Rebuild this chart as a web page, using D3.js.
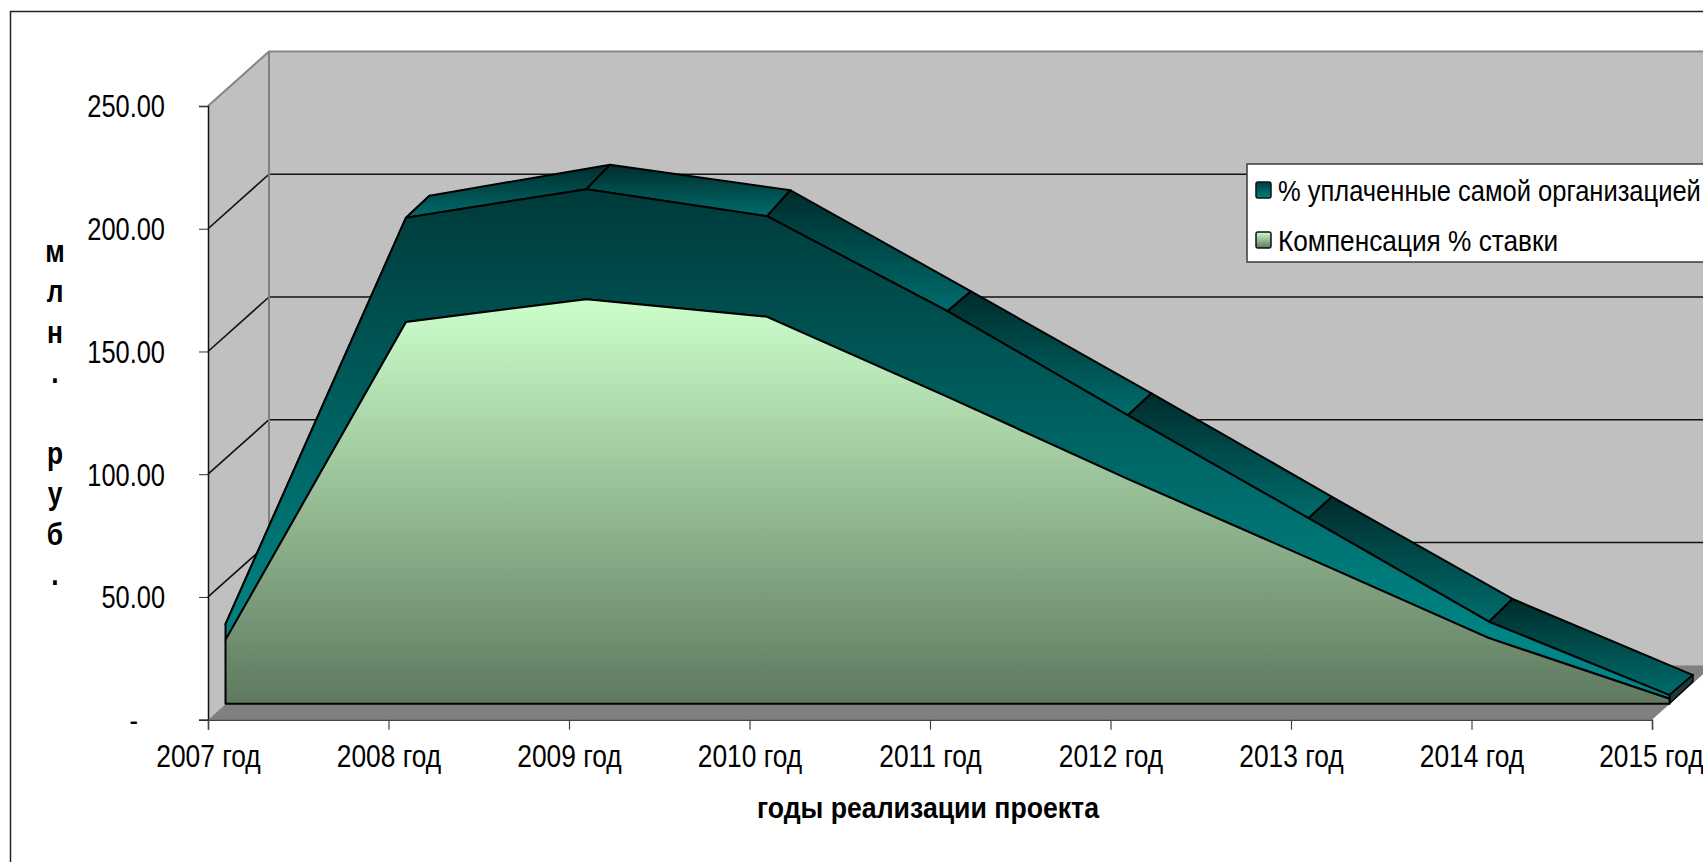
<!DOCTYPE html>
<html>
<head>
<meta charset="utf-8">
<script src="https://cdn.jsdelivr.net/npm/d3@7"></script>
<style>
  html, body { margin: 0; padding: 0; background: #fff; overflow: hidden; }
  text { font-family: "Liberation Sans", sans-serif; fill: #000; }
</style>
</head>
<body>
<div id="chart"></div>
<script>
// values
var years = ["2007 год", "2008 год", "2009 год", "2010 год", "2011 год", "2012 год", "2013 год", "2014 год", "2015 год"];
var compensation = [26, 155.5, 164.8, 157.6, 125, 91.5, 59.3, 26.7, 2];
var paidByOrg = [6.4, 42.5, 44.8, 41, 34.9, 26, 16.3, 6.7, 1.5];
// back edge of the top band, it does not quite follow the front edge
var ridge = [32, 198, 210.6, 200.2, 159, 117.5, 75.3, 33.7, 2.7];
var yTicks = [0, 50, 100, 150, 200, 250];
var seriesNames = ["% уплаченные самой организацией", "Компенсация % ставки"];
var yTitle = ["м", "л", "н", ".", "", "р", "у", "б", "."];
var xTitle = "годы реализации проекта";

var svgWidth = 1703;
var svgHeight = 862;

// fake 3d offsets
var wallDx = 61, wallDy = -54.5;
var planeDx = 17.5, planeDy = -16;
var ridgeDx = 23.5, ridgeDy = -22;

var svg = d3.select("#chart").append("svg")
  .attr("width", svgWidth)
  .attr("height", svgHeight)
  .style("display", "block");

var xScale = d3.scalePoint().domain(years).range([208, 1652]);
var yScale = d3.scaleLinear().domain([0, 250]).range([719.7, 106]);

// gradients
var defs = svg.append("defs");
function addGradient(id, top, bottom, units, y1, y2) {
  var g = defs.append("linearGradient").attr("id", id)
    .attr("x1", units ? 0 : "0%").attr("x2", units ? 0 : "0%")
    .attr("y1", units ? y1 : "0%").attr("y2", units ? y2 : "100%");
  if (units) g.attr("gradientUnits", "userSpaceOnUse");
  g.append("stop").attr("offset", "0%").attr("stop-color", top);
  g.append("stop").attr("offset", "100%").attr("stop-color", bottom);
}
addGradient("lightFace", "#ccffcc", "#5f795f", true, yScale(165), yScale(0));
addGradient("darkFace", "#003a3a", "#008686", true, yScale(210), yScale(22));
addGradient("strip", "#002c2c", "#006c6c");
addGradient("swatchDark", "#003c3c", "#008080");
addGradient("swatchLight", "#ccffcc", "#5c775c");

// outer frame, the right and bottom sides fall outside the picture
svg.append("path")
  .attr("d", `M10.5,${svgHeight}V11.5H${svgWidth}`)
  .attr("fill", "none").attr("stroke", "#222").attr("stroke-width", 1.5);

// walls and floor
var x0 = xScale.range()[0], x1 = xScale.range()[1];
var yTop = yScale(250), yBase = yScale(0);
var poly = d3.line();

svg.append("path")
  .attr("d", poly([[x0 + wallDx, yTop + wallDy], [x1 + wallDx, yTop + wallDy], [x1 + wallDx, yBase + wallDy], [x0 + wallDx, yBase + wallDy]]) + "Z")
  .attr("fill", "#c0c0c0");
svg.append("path")
  .attr("d", poly([[x0, yTop], [x0 + wallDx, yTop + wallDy], [x0 + wallDx, yBase + wallDy], [x0, yBase]]) + "Z")
  .attr("fill", "#c0c0c0");
svg.append("path")
  .attr("d", poly([[x0, yBase], [x0 + wallDx, yBase + wallDy], [x1 + wallDx, yBase + wallDy], [x1, yBase]]) + "Z")
  .attr("fill", "#808080");

// gridlines on the walls
var gridTicks = yTicks.slice(1, -1);
svg.selectAll(".gridBack").data(gridTicks).enter().append("line")
  .attr("x1", x0 + wallDx).attr("x2", x1 + wallDx)
  .attr("y1", d => yScale(d) + wallDy).attr("y2", d => yScale(d) + wallDy)
  .attr("stroke", "#111").attr("stroke-width", 1.6);
svg.selectAll(".gridSide").data(gridTicks).enter().append("line")
  .attr("x1", x0).attr("x2", x0 + wallDx)
  .attr("y1", d => yScale(d)).attr("y2", d => yScale(d) + wallDy)
  .attr("stroke", "#111").attr("stroke-width", 1.6);
svg.append("path")
  .attr("d", poly([[x0, yTop], [x0 + wallDx, yTop + wallDy], [x1 + wallDx, yTop + wallDy]]))
  .attr("fill", "none").attr("stroke", "#858585").attr("stroke-width", 2);
svg.append("line")
  .attr("x1", x0 + wallDx).attr("x2", x0 + wallDx)
  .attr("y1", yTop + wallDy).attr("y2", yBase + wallDy)
  .attr("stroke", "#808080").attr("stroke-width", 2);

// the stacked areas sit a bit deeper than the axes
var tableData = years.map(function(y, i) {
  return { year: y, comp: compensation[i], paid: paidByOrg[i], ridge: ridge[i] };
});
var stacked = d3.stack().keys(["comp", "paid"])(tableData);
var plane = svg.append("g").attr("transform", `translate(${planeDx}, ${planeDy})`);

// top band, one piece per segment
function bandPiece(i) {
  var a = tableData[i], b = tableData[i + 1];
  return poly([
    [xScale(a.year), yScale(a.comp + a.paid)],
    [xScale(b.year), yScale(b.comp + b.paid)],
    [xScale(b.year) + ridgeDx, yScale(b.ridge) + ridgeDy],
    [xScale(a.year) + ridgeDx, yScale(a.ridge) + ridgeDy]
  ]) + "Z";
}
plane.selectAll(".band").data(d3.range(years.length - 1)).enter().append("path")
  .attr("d", bandPiece)
  .attr("fill", "url(#strip)")
  .attr("stroke", "#000").attr("stroke-width", 2).attr("stroke-linejoin", "round");

// small end cap after the last year
var last = tableData[tableData.length - 1];
plane.append("path")
  .attr("d", poly([
    [xScale(last.year), yScale(last.comp + last.paid)],
    [xScale(last.year) + ridgeDx, yScale(last.ridge) + ridgeDy],
    [xScale(last.year) + ridgeDx, yScale(0) + ridgeDy],
    [xScale(last.year), yScale(0)]
  ]) + "Z")
  .attr("fill", "#1c3a3a").attr("stroke", "#000").attr("stroke-width", 1.4);

var area = d3.area()
  .x(d => xScale(d.data.year))
  .y0(d => yScale(d[0]))
  .y1(d => yScale(d[1]));

plane.selectAll(".face").data(stacked.slice().reverse()).enter().append("path")
  .attr("d", area)
  .attr("fill", d => d.key === "comp" ? "url(#lightFace)" : "url(#darkFace)")
  .attr("stroke", "#000").attr("stroke-width", 2).attr("stroke-linejoin", "round");

// axes
var leftAxis = d3.axisLeft(yScale)
  .tickValues(yTicks)
  .tickSize(9)
  .tickPadding(34)
  .tickFormat(d => d === 0 ? "-" : d.toFixed(2));
var bottomAxis = d3.axisBottom(xScale).tickSize(10).tickPadding(10);

var yAxis = svg.append("g").attr("transform", "translate(208, 0)").call(leftAxis);
var xAxis = svg.append("g").attr("transform", `translate(0, ${yBase})`).call(bottomAxis);

// no narrow font here, so squeeze the regular one sideways
var yLabelSqueeze = 0.82, xLabelSqueeze = 0.85;

yAxis.select(".domain").attr("stroke", "#111").attr("stroke-width", 1.5);
yAxis.selectAll(".tick line").attr("stroke", "#333");
yAxis.selectAll(".tick text")
  .attr("font-size", 31)
  .attr("x", d => (d === 0 ? -70 : -43) / yLabelSqueeze)
  .attr("y", 1)
  .attr("transform", `scale(${yLabelSqueeze}, 1)`);

xAxis.select(".domain").attr("stroke", "#444").attr("stroke-width", 1.5);
xAxis.selectAll(".tick line").attr("stroke", "#444").attr("stroke-width", 1.2);
xAxis.selectAll(".tick text")
  .attr("font-size", 31)
  .attr("y", 25)
  .attr("dy", "0.71em")
  .attr("transform", `scale(${xLabelSqueeze}, 1)`);
svg.selectAll(".tick text").attr("font-family", null);

// last label runs into the edge of the picture like in the original
xAxis.selectAll(".tick").filter(d => d === years[years.length - 1]).select("text")
  .attr("text-anchor", "end")
  .attr("x", 51 / xLabelSqueeze);

// axis titles
svg.append("text")
  .attr("x", 928).attr("y", 818)
  .attr("text-anchor", "middle")
  .attr("font-size", 29).attr("font-weight", "bold")
  .attr("textLength", 342).attr("lengthAdjust", "spacingAndGlyphs")
  .text(xTitle);

svg.selectAll(".yTitle").data(yTitle).enter().append("text")
  .attr("transform", (d, i) => `translate(55, ${262 + i * 40.4}) scale(0.85, 1)`)
  .attr("text-anchor", "middle")
  .attr("font-size", 31).attr("font-weight", "bold")
  .text(d => d);

// legend
var legend = svg.append("g");
legend.append("rect")
  .attr("x", 1247).attr("y", 164)
  .attr("width", 480).attr("height", 98)
  .attr("fill", "#fff").attr("stroke", "#444").attr("stroke-width", 1.6);

var legendSqueeze = [0.88, 0.905];
seriesNames.forEach(function(name, i) {
  var rowY = 182 + i * 50;
  legend.append("rect")
    .attr("x", 1256).attr("y", rowY)
    .attr("width", 15).attr("height", 16).attr("rx", 2)
    .attr("fill", i === 0 ? "url(#swatchDark)" : "url(#swatchLight)")
    .attr("stroke", "#111").attr("stroke-width", 1.5);
  legend.append("text")
    .attr("transform", `translate(1278, ${rowY + 19}) scale(${legendSqueeze[i]}, 1)`)
    .attr("font-size", 29)
    .text(name);
});
</script>
</body>
</html>
